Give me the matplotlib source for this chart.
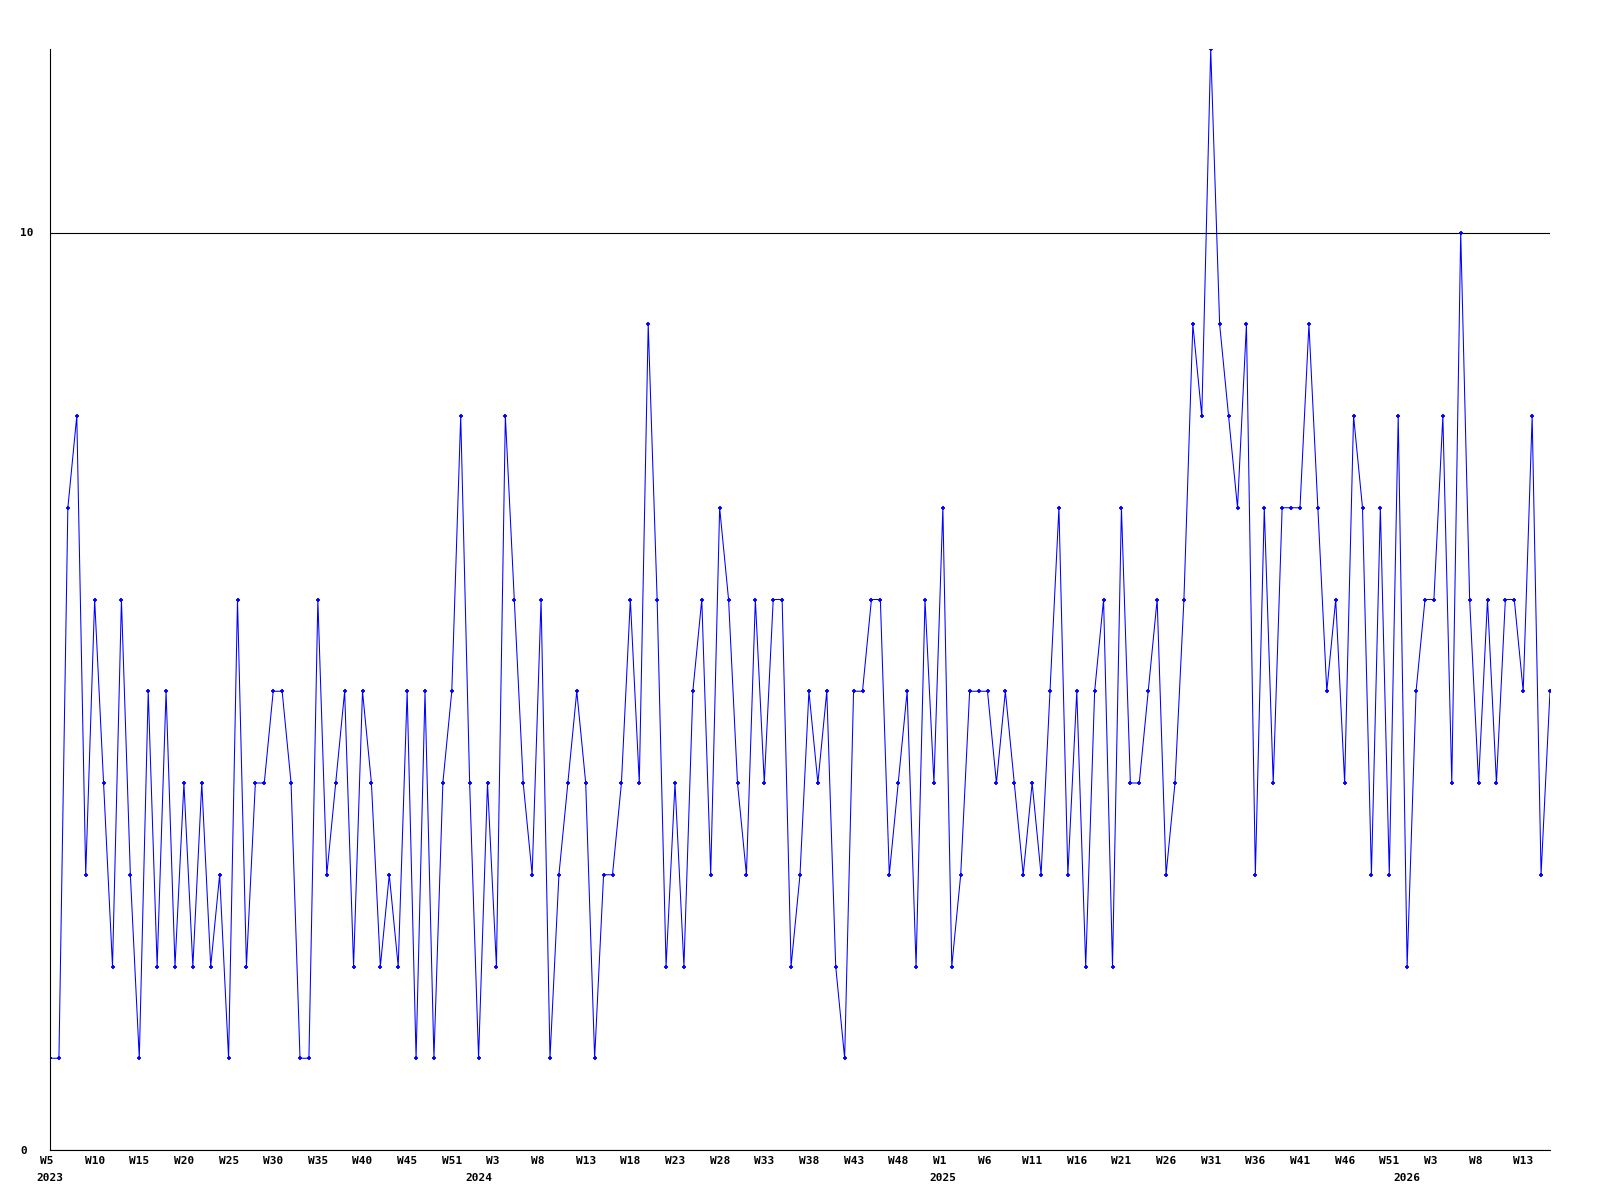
import numpy as np
import matplotlib
matplotlib.use("Agg")
import matplotlib.pyplot as plt
import matplotlib.transforms as mtransforms

# weekly counts, 2023 W5 .. 2026 W17
vals_2023 = [1, 1, 7, 8, 3, 6, 4, 2, 6, 3, 1, 5, 2, 5, 2, 4, 2, 4, 2, 3,
             1, 6, 2, 4, 4, 5, 5, 4, 1, 1, 6, 3, 4, 5, 2, 5, 4, 2, 3, 2,
             5, 1, 5, 1, 4, 5, 8, 4]
vals_2024 = [1, 4, 2, 8, 6, 4, 3, 6, 1, 3, 4, 5, 4, 1, 3, 3, 4, 6, 4, 9,
             6, 2, 4, 2, 5, 6, 3, 7, 6, 4, 3, 6, 4, 6, 6, 2, 3, 5, 4, 5,
             2, 1, 5, 5, 6, 6, 3, 4, 5, 2, 6, 4]
vals_2025 = [7, 2, 3, 5, 5, 5, 4, 5, 4, 3, 4, 3, 5, 7, 3, 5, 2, 5, 6, 2,
             7, 4, 4, 5, 6, 3, 4, 6, 9, 8, 12, 9, 8, 7, 9, 3, 7, 4, 7, 7,
             7, 9, 7, 5, 6, 4, 8, 7, 3, 7, 3, 8]
vals_2026 = [2, 5, 6, 6, 8, 4, 10, 6, 4, 6, 4, 6, 6, 5, 8, 3, 5]

week_labels = ["W5", "W10", "W15", "W20", "W25", "W30", "W35", "W40", "W45", "W51",
               "W3", "W8", "W13", "W18", "W23", "W28", "W33", "W38", "W43", "W48",
               "W1", "W6", "W11", "W16", "W21", "W26", "W31", "W36", "W41", "W46", "W51",
               "W3", "W8", "W13"]
years = ["2023", "2024", "2025", "2026"]

values = np.array(vals_2023 + vals_2024 + vals_2025 + vals_2026)
x = np.arange(len(values))
year_pos = np.cumsum([0, len(vals_2023), len(vals_2024), len(vals_2025)])
tick_pos = np.arange(len(week_labels)) * 5

font = dict(family="DejaVu Sans Mono", weight="bold", size=8)

fig = plt.figure(figsize=(16, 12), dpi=100)
ax = fig.add_axes([50 / 1600, 50 / 1200, 1500 / 1600, 1101 / 1200])

ax.plot(x, values, color="#0000ff", linewidth=0.75, marker="+",
        markersize=3.5, markeredgewidth=1.3)

ax.set_xlim(0, len(values) - 1)
ax.set_ylim(0, 12)

for s in ["top", "right"]:
    ax.spines[s].set_visible(False)
for s in ["left", "bottom"]:
    ax.spines[s].set_color("black")
    ax.spines[s].set_linewidth(0.8)

ax.set_yticks([0, 10])
ax.set_yticklabels(["0", "10"], **font)
ax.tick_params(axis="y", length=0, pad=21.5)
for lab in ax.get_yticklabels():
    lab.set_horizontalalignment("left")
ax.yaxis.grid(True, color="black", linewidth=0.8)
ax.set_axisbelow(True)

ax.set_xticks(tick_pos)
ax.set_xticklabels(week_labels, **font)
ax.tick_params(axis="x", length=0, pad=4)
shift = mtransforms.ScaledTranslation(-10 / 100, 0, fig.dpi_scale_trans)
for lab in ax.get_xticklabels():
    lab.set_horizontalalignment("left")
    lab.set_transform(lab.get_transform() + shift)

trans = mtransforms.blended_transform_factory(ax.transData, ax.transAxes)
for pos, yr in zip(year_pos, years):
    ax.text(pos, -0.021, yr, transform=trans, ha="center", va="top", **font)

fig.savefig("out.png", dpi=100, facecolor="white")
